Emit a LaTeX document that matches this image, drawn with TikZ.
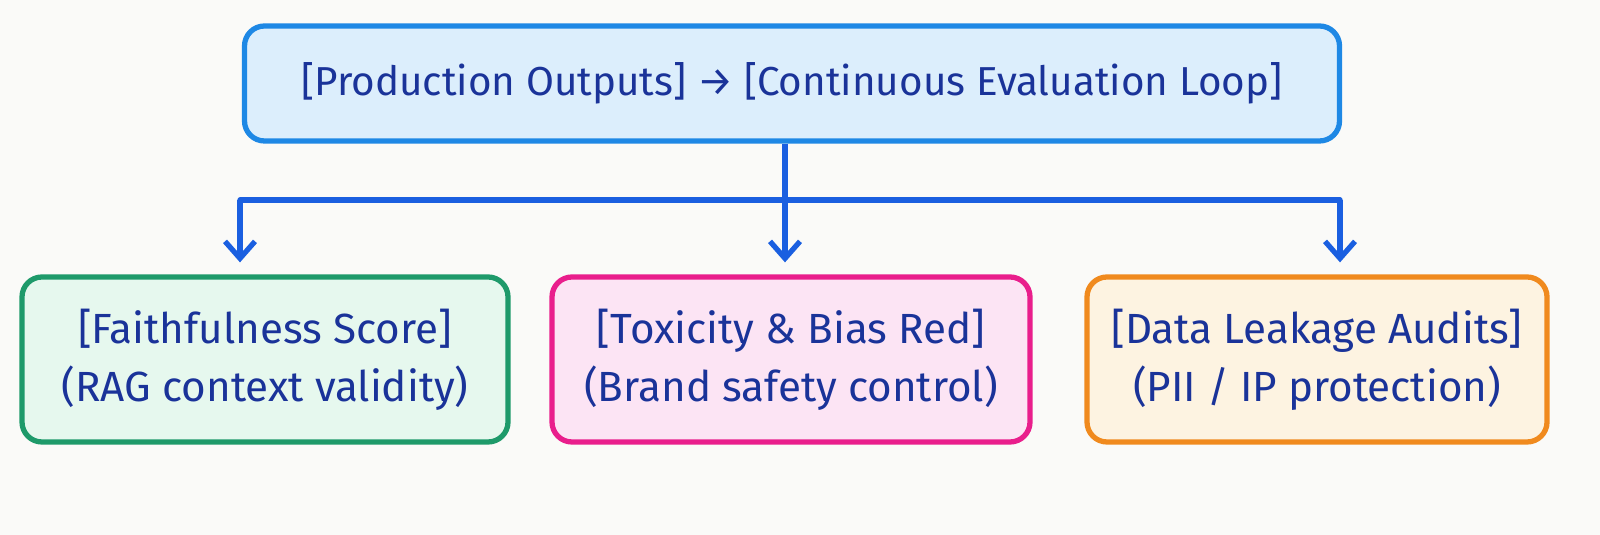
\documentclass[tikz,border=0pt]{standalone}
\usepackage{fontspec}
\setmainfont{Fira Sans}
\usetikzlibrary{positioning,arrows.meta}

\definecolor{pagebg}{HTML}{FAFAF8}
\definecolor{inkblue}{HTML}{1A3399}
\definecolor{linkblue}{HTML}{1A5FE0}
\definecolor{topfill}{HTML}{DCEEFC}
\definecolor{topline}{HTML}{1E88E5}
\definecolor{greenfill}{HTML}{E6F8EE}
\definecolor{greenline}{HTML}{1E9A6A}
\definecolor{pinkfill}{HTML}{FCE4F4}
\definecolor{pinkline}{HTML}{E91E8C}
\definecolor{orangefill}{HTML}{FDF3E1}
\definecolor{orangeline}{HTML}{F08A1E}

\begin{document}
\begin{tikzpicture}
    \tikzset{box/.style={draw, line width=1.5pt, rounded corners=0.2cm, text=inkblue,
                         font=\fontsize{12}{16.5}\selectfont, align=center, inner sep=0pt},
             myarrow/.style={-{Straight Barb[length=0.17cm, width=0.3cm, line width=1.5pt]},
                             line width=1.5pt, linkblue}}

    \fill[pagebg] (0,0) rectangle (16,-5.35);
    \useasboundingbox (0,0) rectangle (16,-5.35);

    \draw node[box, fill=topfill, draw=topline, minimum width=10.95cm, minimum height=1.15cm,
               font=\fontsize{11.5}{16}\selectfont]
        at (7.92,-0.835) (loop) {[Production Outputs] → [Continuous Evaluation Loop]};
    \draw node[box, fill=greenfill, draw=greenline, minimum width=4.86cm, minimum height=1.65cm]
        at (2.65,-3.595) (faith) {[Faithfulness Score]\\(RAG context validity)};
    \draw node[box, fill=pinkfill, draw=pinkline, minimum width=4.78cm, minimum height=1.65cm]
        at (7.91,-3.595) (toxic) {[Toxicity \& Bias Red]\\(Brand safety control)};
    \draw node[box, fill=orangefill, draw=orangeline, minimum width=4.60cm, minimum height=1.65cm]
        at (13.17,-3.595) (leak) {[Data Leakage Audits]\\(PII / IP protection)};

    \coordinate (split) at (7.85,-2.0);
    \coordinate (leftend) at (2.40,-2.0);
    \coordinate (rightend) at (13.40,-2.0);

    \draw[line width=1.5pt, linkblue, line cap=round] (leftend) -- (rightend);
    \draw[myarrow] (loop.south -| split) -- ([yshift=0.12cm]toxic.north -| split);
    \draw[myarrow] (leftend) -- ([yshift=0.12cm]faith.north -| leftend);
    \draw[myarrow] (rightend) -- ([yshift=0.12cm]leak.north -| rightend);
\end{tikzpicture}
\end{document}
